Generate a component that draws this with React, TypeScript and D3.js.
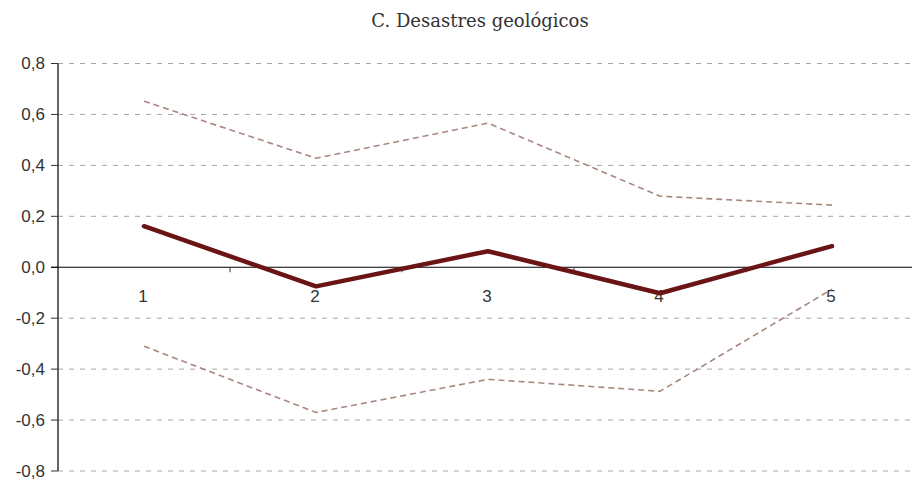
import React from "react";
import * as d3 from "d3";

const categories = ["1", "2", "3", "4", "5"];
const meanValues = [0.161, -0.075, 0.063, -0.102, 0.083];
const upperValues = [0.652, 0.428, 0.566, 0.279, 0.244];
const lowerValues = [-0.31, -0.57, -0.44, -0.487, -0.086];
const yTicks = [0.8, 0.6, 0.4, 0.2, 0, -0.2, -0.4, -0.6, -0.8];
const title = "C. Desastres geológicos";

const W = 912;
const H = 483;

export default function App() {
  const x = d3.scaleBand<string>().domain(categories).range([58, 918]);
  const y = d3.scaleLinear().domain([-0.8, 0.8]).range([471, 63.5]);
  const cx = (c: string) => (x(c) as number) + x.bandwidth() / 2;
  const line = d3
    .line<number>()
    .x((_, i) => cx(categories[i]))
    .y((d) => y(d));
  const fmt = (v: number) => d3.format(".1f")(v).replace(".", ",").replace("−", "-");
  const sans = "'Liberation Sans', Arial, sans-serif";

  return (
    <svg width={W} height={H} style={{ position: "absolute", left: 0, top: 0 }}>
      <rect width={W} height={H} fill="#fff" />
      <text x={480} y={27} textAnchor="middle" fontFamily="'DejaVu Serif', serif" fontSize={18} fill="#333">
        {title}
      </text>
      {yTicks.map((t) => (
        <g key={t}>
          {t !== 0 && (
            <line x1={58} x2={912} y1={y(t)} y2={y(t)} stroke="#a6a6a6" strokeWidth={1} strokeDasharray="5,6" />
          )}
          <line x1={51} x2={58} y1={y(t)} y2={y(t)} stroke="#333" strokeWidth={1} />
          <text x={45} y={y(t)} dy="0.35em" textAnchor="end" fontFamily={sans} fontSize={17} fill="#333">
            {fmt(t)}
          </text>
        </g>
      ))}
      <line x1={58} x2={58} y1={y(0.8)} y2={y(-0.8)} stroke="#333" strokeWidth={1.5} />
      <line x1={51} x2={912} y1={y(0)} y2={y(0)} stroke="#000" strokeWidth={1.2} />
      {categories.slice(1).map((c) => (
        <line key={c} x1={x(c) as number} x2={x(c) as number} y1={y(0)} y2={y(0) + 5} stroke="#333" strokeWidth={1} />
      ))}
      {categories.map((c) => (
        <text key={c} x={cx(c) - 1} y={y(0) + 35} textAnchor="middle" fontFamily={sans} fontSize={17} fill="#333">
          {c}
        </text>
      ))}
      <path d={line(upperValues) || ""} fill="none" stroke="#a8877f" strokeWidth={1.6} strokeDasharray="6,4" />
      <path d={line(lowerValues) || ""} fill="none" stroke="#a8877f" strokeWidth={1.6} strokeDasharray="6,4" />
      <path d={line(meanValues) || ""} fill="none" stroke="#6b1416" strokeWidth={4.5} strokeLinecap="round" strokeLinejoin="round" />
    </svg>
  );
}
